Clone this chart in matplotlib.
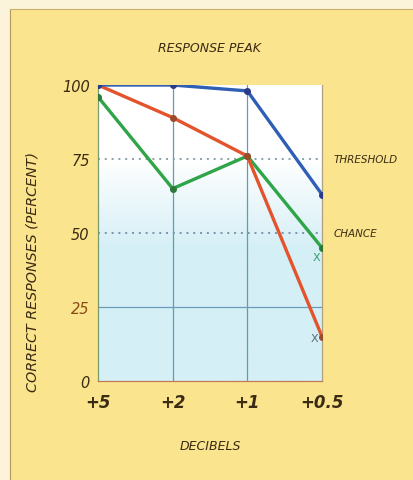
import numpy as np
import matplotlib.pyplot as plt
from matplotlib.lines import Line2D
from matplotlib.patches import Rectangle
from matplotlib.colors import to_rgb

# Decibel steps along the bottom, percent correct for each listener
decibels = ['+5', '+2', '+1', '+0.5']
blue_resp = [100, 100, 98, 63]
red_resp = [100, 89, 76, 15]
green_resp = [96, 65, 76, 45]
y_ticks = [0, 25, 50, 75, 100]
threshold = 75
chance = 50

YELLOW = '#fbe48e'
INK = '#3b2b12'
FONT = 'DejaVu Sans'

fig = plt.figure(figsize=(4.13, 4.81), dpi=100)
fig.patch.set_facecolor('#fbf3da')

# yellow card with a thin frame on the left and top
fig.add_artist(Rectangle((10/413, 0), 1, 1 - 10/481, transform=fig.transFigure,
                         facecolor=YELLOW, edgecolor='none', zorder=-10))
fig.add_artist(Line2D([10/413, 10/413], [0, 1 - 10/481], transform=fig.transFigure,
                      color='#b49a5a', lw=0.8))
fig.add_artist(Line2D([10/413, 1], [1 - 10/481, 1 - 10/481], transform=fig.transFigure,
                      color='#c8b070', lw=0.8))

ax = fig.add_axes([98/413, 1 - 382/481, 224/413, 296/481])
x = np.arange(len(decibels))

# pale background, white at the top fading to light cyan
yy = np.linspace(100, 0, 200)
top = np.array(to_rgb('#ffffff'))
bot = np.array(to_rgb('#d5eff6'))
t = np.clip((75 - yy) / 30, 0, 1)[:, None]
grad = (top * (1 - t) + bot * t)[:, None, :]
ax.imshow(grad, extent=[0, 3, 0, 100], aspect='auto', zorder=0)

# grid
for xi in x[1:3]:
    ax.axvline(xi, color='#5f9db2', lw=0.9, zorder=1)
ax.axhline(25, color='#6b9cb8', lw=0.9, zorder=1)
ax.axhline(threshold, color='#8aa0a8', lw=1.4, ls=(0, (1, 2.5)), zorder=1)
ax.axhline(chance, color='#7895a8', lw=1.4, ls=(0, (1, 2.5)), zorder=1)

ax.plot(x, green_resp, color='#2fa448', lw=2.4, zorder=3, solid_capstyle='round')
ax.plot(x, red_resp, color='#e4542c', lw=2.4, zorder=4, solid_capstyle='round')
ax.plot(x, blue_resp, color='#2f5fb5', lw=2.4, zorder=5, solid_capstyle='round')
ax.plot(x, green_resp, 'o', color='#2b7a3a', ms=4, zorder=6)
ax.plot(x, red_resp, 'o', color='#9b4a2a', ms=4, zorder=6)
ax.plot(x, blue_resp, 'o', color='#2a3a8a', ms=4, zorder=6)

ax.text(x[-1] - 0.08, green_resp[-1] - 3, 'X', color='#3a9a70', fontsize=8,
        family=FONT, ha='center', va='center', zorder=7)
ax.text(x[-1] - 0.1, red_resp[-1] - 0.5, 'X', color='#5a6a78', fontsize=8,
        family=FONT, ha='center', va='center', zorder=7)

ax.set_xlim(0, 3)
ax.set_ylim(0, 100)
ax.set_xticks(x)
ax.set_xticklabels(decibels, fontsize=12, style='italic', weight='bold',
                   family=FONT, color=INK)
ax.set_yticks(y_ticks)
ax.set_yticklabels([str(v) for v in y_ticks], fontsize=10.5, style='italic',
                   family=FONT, color=INK)
ax.get_yticklabels()[1].set_color('#8a4a14')
ax.tick_params(length=0, pad=6)
ax.tick_params(axis='x', pad=9)

ax.spines['top'].set_visible(False)
ax.spines['left'].set_color('#7a9a70')
ax.spines['bottom'].set_color('#c07a50')
ax.spines['right'].set_color('#b0a080')
for s in ['left', 'bottom', 'right']:
    ax.spines[s].set_linewidth(0.9)

ax.text(1.05, threshold / 100, 'THRESHOLD', transform=ax.transAxes, fontsize=7.5,
        style='italic', family=FONT, color=INK, va='center', ha='left')
ax.text(1.05, chance / 100, 'CHANCE', transform=ax.transAxes, fontsize=7.5,
        style='italic', family=FONT, color=INK, va='center', ha='left')

fig.text(210/413, 1 - 48/481, 'RESPONSE PEAK', fontsize=9, style='italic',
         family=FONT, color=INK, ha='center', va='center')
fig.text(210/413, 1 - 447/481, 'DECIBELS', fontsize=9, style='italic',
         family=FONT, color=INK, ha='center', va='center')
fig.text(33/413, 1 - 272/481, 'CORRECT RESPONSES (PERCENT)', fontsize=10.3,
         style='italic', family=FONT, color=INK, ha='center', va='center',
         rotation=90)

fig.savefig('out.png', dpi=100, facecolor=fig.get_facecolor())
